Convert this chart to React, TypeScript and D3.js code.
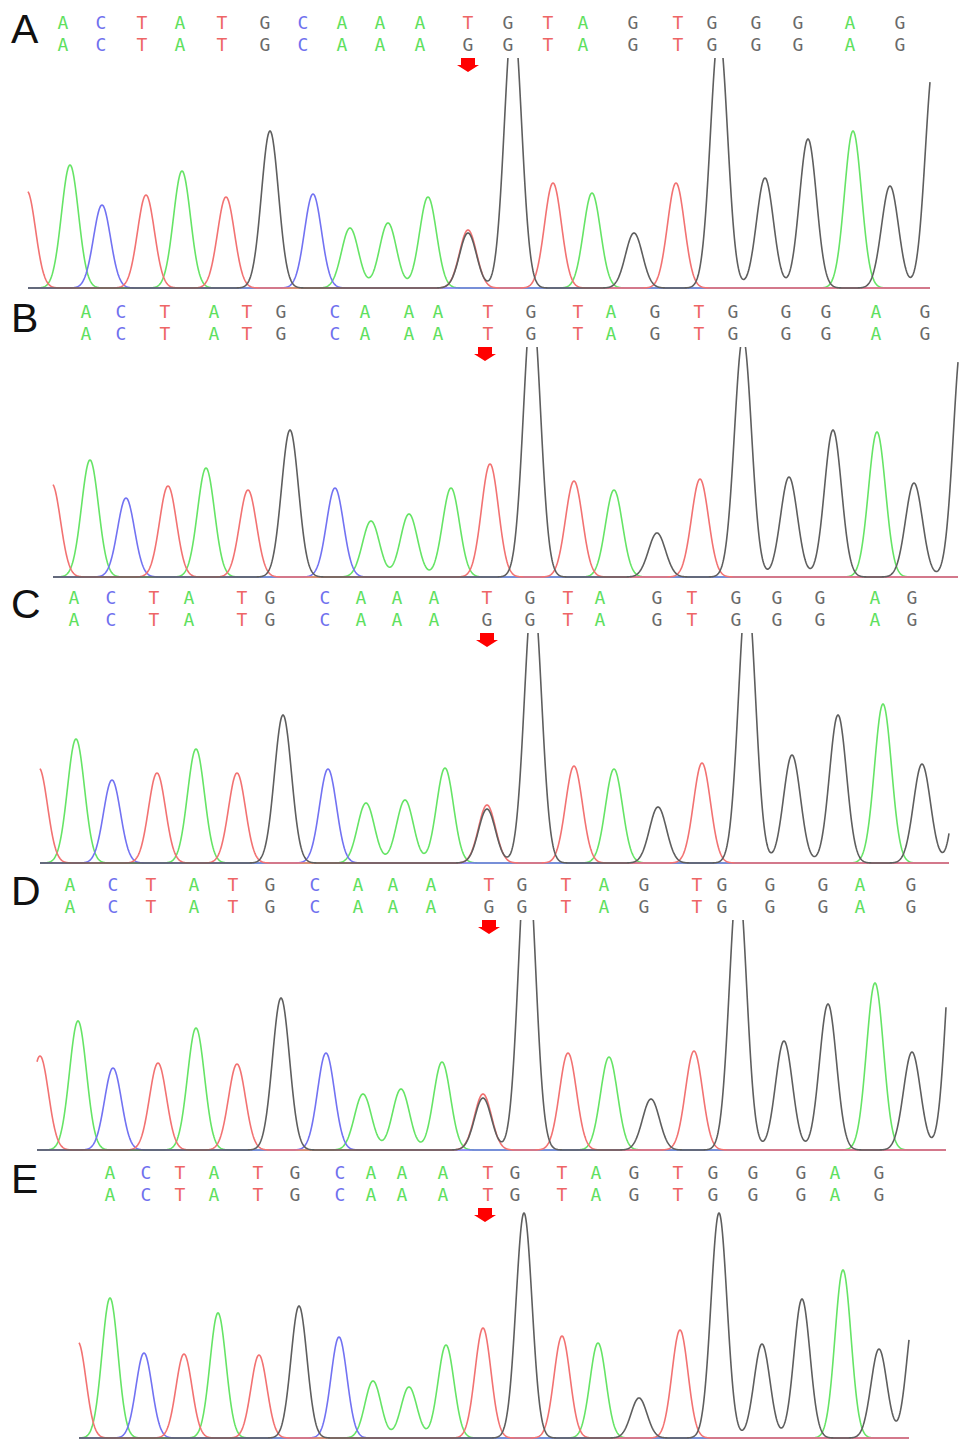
import React from 'react';
import * as d3 from 'd3';

const W = 969;
const H = 1450;

// panel labels and vertical offsets of each trace block
const panelLabels = ['A', 'B', 'C', 'D', 'E'];
const panelTop = [0, 289, 575, 862, 1150];

// called bases, upper and lower rows
const seqTop = [
  'ACTATGCAAATGTAGTGGGAG',
  'ACTATGCAAATGTAGTGGGAG',
  'ACTATGCAAATGTAGTGGGAG',
  'ACTATGCAAATGTAGTGGGAG',
  'ACTATGCAAATGTAGTGGGAG',
];
const seqBottom = [
  'ACTATGCAAAGGTAGTGGGAG',
  'ACTATGCAAATGTAGTGGGAG',
  'ACTATGCAAAGGTAGTGGGAG',
  'ACTATGCAAAGGTAGTGGGAG',
  'ACTATGCAAATGTAGTGGGAG',
];

// base call positions (scan position) per panel
const callPosA = [63, 101, 142, 180, 222, 265, 303, 342, 380, 420, 468, 508, 548, 583, 633, 678, 712, 756, 798, 850, 900];
const callPosB = [86, 121, 165, 214, 247, 281, 335, 365, 409, 438, 488, 531, 578, 611, 655, 699, 733, 786, 826, 876, 925];
const callPosC = [74, 111, 154, 189, 242, 270, 325, 361, 397, 434, 487, 530, 568, 600, 657, 692, 736, 777, 820, 875, 912];
const callPosD = [70, 113, 151, 194, 233, 270, 315, 358, 393, 431, 489, 522, 566, 604, 644, 697, 722, 770, 823, 860, 911];
const callPosE = [110, 146, 180, 214, 258, 295, 340, 371, 402, 443, 488, 515, 562, 596, 634, 678, 713, 753, 801, 835, 879];
const callPos = [callPosA, callPosB, callPosC, callPosD, callPosE];

// mutation site marker
const mutationPos = [468, 485, 487, 489, 485];

// trace extent (scan range shown)
const traceStart = [28, 53, 40, 37, 79];
const traceEnd = [930, 958, 949, 946, 909];

// peaks: [base, scan position, signal]
const peaksA = [
  ['T', 27, 97], ['A', 70, 123], ['C', 102, 83], ['T', 146, 93], ['A', 182, 117],
  ['T', 226, 91], ['G', 270, 157], ['C', 313, 94], ['A', 350, 60], ['A', 388, 65],
  ['A', 428, 91], ['T', 468, 58], ['G', 468, 55], ['G', 513, 275], ['T', 553, 105],
  ['A', 592, 95], ['G', 634, 55], ['T', 676, 105], ['G', 719, 257], ['G', 765, 110],
  ['G', 808, 149], ['A', 853, 157], ['G', 890, 102], ['G', 934, 230],
];
const peaksB = [
  ['T', 52, 93], ['A', 90, 117], ['C', 126, 79], ['T', 168, 91], ['A', 206, 109],
  ['T', 248, 87], ['G', 290, 147], ['C', 335, 89], ['A', 371, 56], ['A', 409, 63],
  ['A', 451, 89], ['T', 490, 113], ['G', 532, 275], ['T', 574, 96], ['A', 614, 87],
  ['G', 657, 44], ['T', 700, 98], ['G', 743, 240], ['G', 789, 100], ['G', 833, 147],
  ['A', 877, 145], ['G', 914, 94], ['G', 962, 240],
];
const peaksC = [
  ['T', 39, 95], ['A', 76, 124], ['C', 112, 83], ['T', 157, 90], ['A', 196, 114],
  ['T', 237, 90], ['G', 283, 148], ['C', 328, 94], ['A', 366, 60], ['A', 405, 63],
  ['A', 445, 95], ['T', 487, 58], ['G', 487, 54], ['G', 533, 275], ['T', 574, 97],
  ['A', 614, 94], ['G', 658, 56], ['T', 702, 100], ['G', 747, 275], ['G', 792, 108],
  ['G', 838, 148], ['A', 883, 159], ['G', 922, 99], ['G', 965, 170],
];
const peaksD = [
  ['T', 40, 94], ['A', 78, 129], ['C', 113, 82], ['T', 158, 87], ['A', 196, 122],
  ['T', 237, 86], ['G', 281, 152], ['C', 326, 97], ['A', 363, 56], ['A', 401, 61],
  ['A', 442, 88], ['T', 483, 56], ['G', 483, 52], ['G', 527, 305], ['T', 568, 97],
  ['A', 609, 93], ['G', 651, 51], ['T', 694, 99], ['G', 738, 275], ['G', 784, 109],
  ['G', 828, 146], ['A', 875, 167], ['G', 912, 98], ['G', 955, 250],
];
const peaksE = [
  ['T', 78, 96], ['A', 110, 140], ['C', 144, 85], ['T', 184, 84], ['A', 218, 125],
  ['T', 259, 83], ['G', 299, 132], ['C', 339, 101], ['A', 373, 57], ['A', 409, 51],
  ['A', 446, 93], ['T', 483, 110], ['G', 524, 225], ['T', 562, 102], ['A', 598, 95],
  ['G', 639, 40], ['T', 680, 108], ['G', 719, 225], ['G', 762, 94], ['G', 802, 139],
  ['A', 843, 168], ['G', 879, 89], ['G', 915, 130],
];
const peaks = [peaksA, peaksB, peaksC, peaksD, peaksE];
const peakWidth = [8.5, 8.5, 8.5, 8.5, 8];

const bases = ['A', 'C', 'T', 'G'];
const letterColor: Record<string, string> = { A: '#5ee05e', C: '#7070ee', T: '#ee6666', G: '#6a6a6a' };
const traceColor: Record<string, string> = { A: '#66e466', C: '#7272f2', T: '#f27272', G: '#5e5e5e' };

const x = d3.scaleLinear().domain([0, W]).range([0, W]);

function Panel({ i }: { i: number }) {
  const top = panelTop[i];
  const baseline = top + 288;
  const y = d3.scaleLinear().domain([0, 230]).range([baseline, baseline - 230]);
  const sigma = peakWidth[i];
  const xs = d3.range(traceStart[i], traceEnd[i] + 0.5, 0.5);
  const line = d3.line<[number, number]>().x((d) => x(d[0])).y((d) => y(d[1]));

  const traces = bases.map((b) => {
    const pk = peaks[i].filter((p) => p[0] === b);
    const pts: [number, number][] = xs.map((sx) => [
      sx,
      d3.sum(pk, (p) => (p[2] as number) * Math.exp(-(((sx - (p[1] as number)) ** 2) / (2 * sigma * sigma)))),
    ]);
    return { b, d: line(pts) };
  });

  const mx = x(mutationPos[i]);
  const ay = top + 65;
  const clipId = `clip-${i}`;

  return (
    <g>
      <defs>
        <clipPath id={clipId}>
          <rect x={x(traceStart[i]) - 1} y={baseline - 230} width={x(traceEnd[i]) - x(traceStart[i]) + 2} height={234} />
        </clipPath>
      </defs>
      <text x={11} y={top + 43} fontFamily="Liberation Sans, Arial, sans-serif" fontSize={41} fill="#111">
        {panelLabels[i]}
      </text>
      {[seqTop[i], seqBottom[i]].map((seq, r) => (
        <g key={r}>
          {seq.split('').map((c, k) => (
            <text
              key={k}
              x={x(callPos[i][k])}
              y={top + 29 + r * 21.5}
              textAnchor="middle"
              fontFamily="DejaVu Sans Mono, monospace"
              fontSize={18}
              fill={letterColor[c]}
            >
              {c}
            </text>
          ))}
        </g>
      ))}
      <g clipPath={`url(#${clipId})`}>
        {traces.map((t) => (
          <path key={t.b} d={t.d || ''} fill="none" stroke={traceColor[t.b]} strokeWidth={1.6} />
        ))}
      </g>
      <path
        d={`M${mx - 7},${ay - 7}L${mx + 7},${ay - 7}L${mx + 7},${ay}L${mx + 11},${ay}L${mx},${ay + 7}L${mx - 11},${ay}L${mx - 7},${ay}Z`}
        fill="#ff0000"
      />
    </g>
  );
}

export default function App() {
  return (
    <svg width={W} height={H} style={{ position: 'absolute', left: 0, top: 0, background: '#fff' }}>
      <rect width={W} height={H} fill="#fff" />
      {panelLabels.map((_, i) => (
        <Panel key={i} i={i} />
      ))}
    </svg>
  );
}
